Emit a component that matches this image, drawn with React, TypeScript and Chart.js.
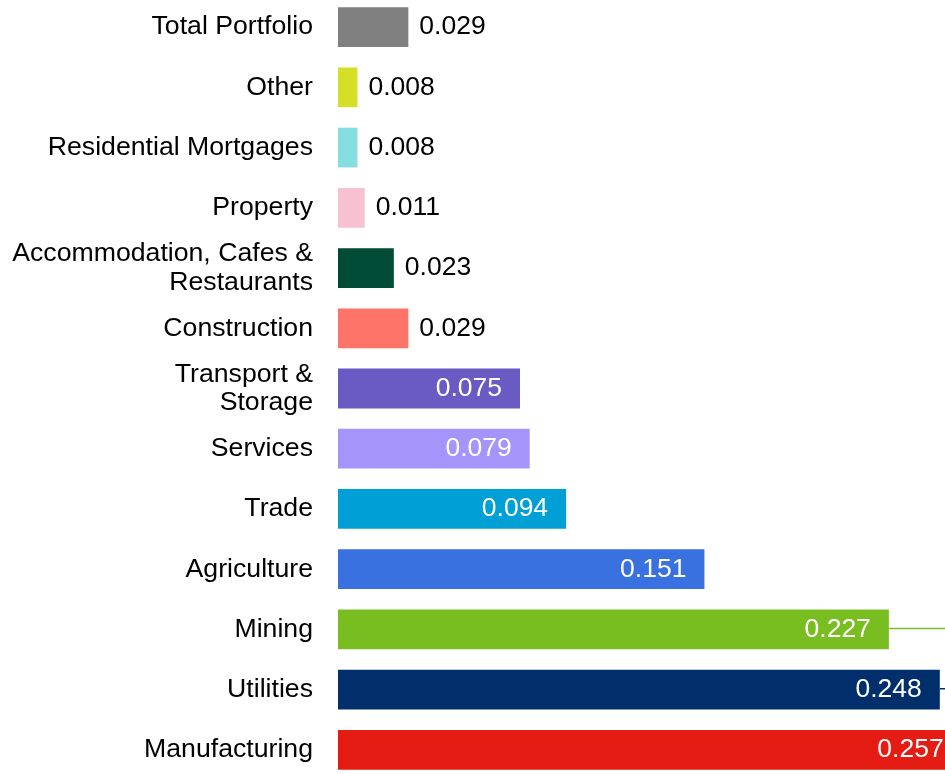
import React, { useEffect, useRef } from "react";
import { Chart, registerables } from "chart.js";

Chart.register(...registerables);

const categories: (string | string[])[] = [
  "Total Portfolio",
  "Other",
  "Residential Mortgages",
  "Property",
  ["Accommodation, Cafes &", "Restaurants"],
  "Construction",
  ["Transport &", "Storage"],
  "Services",
  "Trade",
  "Agriculture",
  "Mining",
  "Utilities",
  "Manufacturing",
];

const values: number[] = [0.029, 0.008, 0.008, 0.011, 0.023, 0.029, 0.075, 0.079, 0.094, 0.151, 0.227, 0.248, 0.257];

const barColors: string[] = [
  "#808080",
  "#d5df26",
  "#86dde0",
  "#f8c1d2",
  "#004b35",
  "#ff7469",
  "#6a5bc4",
  "#a594f9",
  "#00a0d6",
  "#3a71e0",
  "#78be21",
  "#002f6c",
  "#e41c14",
];

const connectorIndices: number[] = [10, 11];

const FONT = "'Liberation Sans', Arial, Helvetica, sans-serif";

export default function App() {
  const ref = useRef<HTMLCanvasElement | null>(null);

  useEffect(() => {
    if (!ref.current) return;

    const labelPlugin = {
      id: "valueLabels",
      afterDatasetsDraw(chart: any) {
        const ctx = chart.ctx;
        const meta = chart.getDatasetMeta(0);
        ctx.save();
        connectorIndices.forEach((i) => {
          const bar = meta.data[i];
          if (!bar) return;
          ctx.strokeStyle = barColors[i];
          ctx.lineWidth = 1.5;
          ctx.beginPath();
          ctx.moveTo(bar.x, bar.y - 1);
          ctx.lineTo(chart.width, bar.y - 1);
          ctx.stroke();
        });
        ctx.font = `26.5px ${FONT}`;
        ctx.textBaseline = "middle";
        meta.data.forEach((bar: any, i: number) => {
          const v = values[i];
          const txt = v.toFixed(3);
          if (v >= 0.05) {
            ctx.fillStyle = "#ffffff";
            ctx.textAlign = "right";
            ctx.fillText(txt, bar.x - 18, bar.y);
          } else {
            ctx.fillStyle = "#000000";
            ctx.textAlign = "left";
            ctx.fillText(txt, bar.x + 11, bar.y);
          }
        });
        ctx.restore();
      },
    };

    const chart = new Chart(ref.current, {
      type: "bar",
      data: {
        labels: categories as any,
        datasets: [
          {
            data: values,
            backgroundColor: barColors,
            borderWidth: 0,
            categoryPercentage: 1,
            barPercentage: 0.66,
          },
        ],
      },
      options: {
        indexAxis: "y",
        animation: false,
        responsive: false,
        maintainAspectRatio: false,
        layout: { padding: { top: 1, bottom: 3, left: 0, right: 0 } },
        plugins: {
          legend: { display: false },
          tooltip: { enabled: false },
        },
        scales: {
          x: {
            display: false,
            min: 0,
            max: 0.2728,
          },
          y: {
            afterFit(scale: any) {
              scale.width = 338;
              scale.paddingTop = 0;
              scale.paddingBottom = 0;
            },
            grid: { display: false, drawTicks: false },
            border: { display: false },
            ticks: {
              color: "#000000",
              padding: 25,
              font: { family: FONT, size: 26.67, lineHeight: 1.06 },
              autoSkip: false,
            },
          },
        },
      },
      plugins: [labelPlugin],
    });

    return () => chart.destroy();
  }, []);

  return (
    <div
      style={{
        position: "fixed",
        top: 0,
        left: 0,
        width: 945,
        height: 774,
        overflow: "hidden",
        background: "#ffffff",
      }}
    >
      <canvas
        ref={ref}
        width={1000}
        height={787}
        style={{ position: "absolute", top: -4, left: 0, width: 1000, height: 787 }}
      />
    </div>
  );
}
